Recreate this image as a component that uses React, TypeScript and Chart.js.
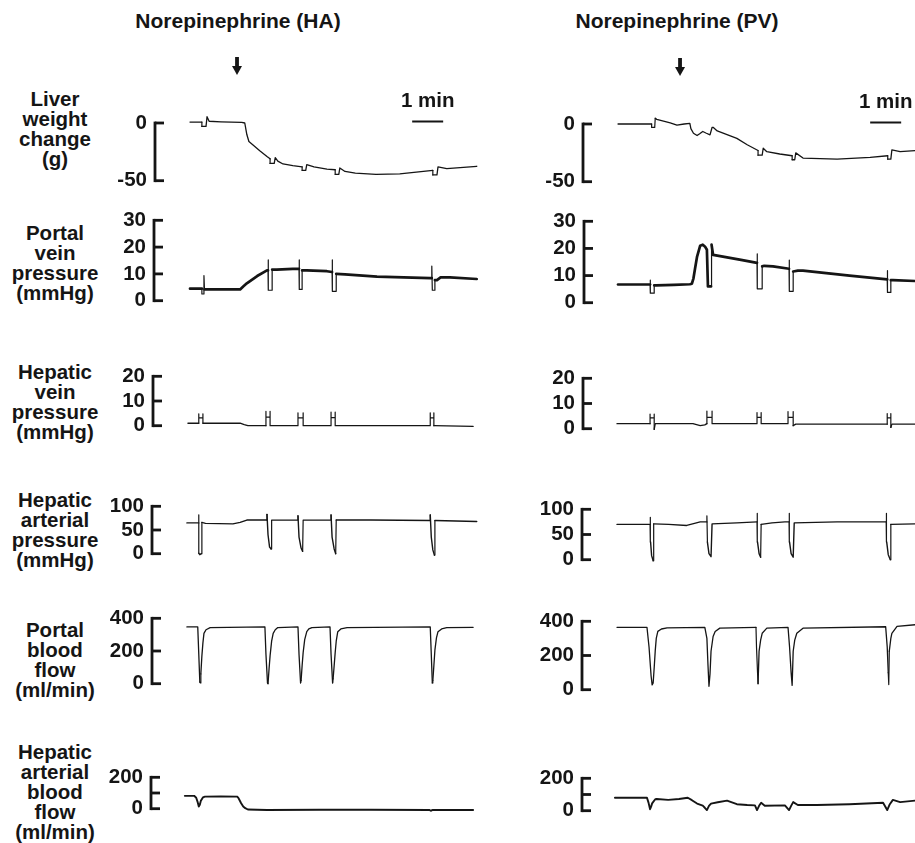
import React, { useEffect, useRef } from 'react';
import { Chart, registerables } from 'chart.js';

Chart.register(...registerables);

type Pt = [number, number];

const FONT = "'Liberation Sans', Arial, Helvetica, sans-serif";
const INK = '#151515';

// ---- text ----
const columnTitles = ['Norepinephrine (HA)', 'Norepinephrine (PV)'];
const rowLabels: string[][] = [
  ['Liver', 'weight', 'change', '(g)'],
  ['Portal', 'vein', 'pressure', '(mmHg)'],
  ['Hepatic', 'vein', 'pressure', '(mmHg)'],
  ['Hepatic', 'arterial', 'pressure', '(mmHg)'],
  ['Portal', 'blood', 'flow', '(ml/min)'],
  ['Hepatic', 'arterial', 'blood', 'flow', '(ml/min)'],
];
const scaleBarLabel = '1 min';

// ---- y ticks ----
const liverTicks = [-50, 0];
const liverTickLabels = ['-50', '0'];
const portalPressureTicks = [0, 10, 20, 30];
const portalPressureTickLabels = ['0', '10', '20', '30'];
const hepaticVeinTicks = [0, 10, 20];
const hepaticVeinTickLabels = ['0', '10', '20'];
const arterialPressureTicks = [0, 50, 100];
const arterialPressureTickLabels = ['0', '50', '100'];
const portalFlowTicks = [0, 200, 400];
const portalFlowTickLabels = ['0', '200', '400'];
const arterialFlowTicks = [0, 100, 200];
const arterialFlowTickLabels = ['0', '', '200'];

// ---- events (seconds from start of trace) ----
const injectionTimes = [91, 122];
const oneMinBarHA: Pt = [430, 490];
const oneMinBarPV: Pt = [490, 550];

// ---- traces: [time (s), value] ----
const haLiverWeight: Pt[] = [
  [0, 0.8], [23, 0.8], [23, -3], [31, -3], [33, 5.5], [37, 1.5], [60, 1], [100, 0.5], [106, 0],
  [110, -10], [114, -16], [122, -19], [135, -24], [149, -29], [155, -31], [155, -35], [163, -35],
  [165, -30], [170, -33], [180, -35.5], [199, -37], [217, -38], [217, -41], [224, -41], [226, -36],
  [240, -38], [265, -40], [281, -40.5], [281, -44.5], [288, -44.5], [290, -39], [300, -42],
  [320, -43.5], [360, -44.5], [406, -44], [470, -41], [470, -45], [478, -45], [480, -38],
  [497, -39.5], [555, -37.5],
];
const pvLiverWeight: Pt[] = [
  [2, 0], [67, 0], [67, -3], [73, -3], [74, 5], [77, 4], [90, 2.5], [103, 1], [116, -1], [130, 0],
  [141, 0.5], [143, -4], [148, -8], [155, -10], [160, -8.5], [166, -6.5], [173, -8], [180, -9.4],
  [184, -3], [186, -2.9], [194, -6], [232, -12.5], [252, -18], [273, -23], [273, -27], [281, -27],
  [283, -21], [290, -24], [315, -26], [339, -27.5], [339, -31], [344, -31], [346, -25], [360, -29.5],
  [393, -30], [426, -30.5], [490, -29], [524, -27.5], [524, -30.5], [530, -30.5], [532, -22.5],
  [548, -24], [577, -23],
];

const haPortalPressure: Pt[] = [
  [0, 4.5], [23, 4.5], [23, 2.5], [27, 2.5], [27, 9.4], [28, 4.2], [60, 4.2], [97, 4.2], [103, 5.3],
  [110, 6.5], [130, 9.2], [149, 11.3], [151, 11.3], [151, 15.2], [152, 3.9], [159, 3.9], [159, 11.6],
  [168, 11.6], [199, 11.9], [211, 11.9], [211, 15.2], [212, 4.2], [217, 4.2], [217, 11.3], [226, 11.3],
  [265, 11], [275, 10.7], [275, 15.2], [276, 3.5], [283, 3.5], [283, 10], [300, 9.8], [362, 9],
  [465, 8.4], [468, 8.4], [468, 12.9], [469, 3.9], [474, 3.9], [474, 7.7], [478, 7.7], [485, 8.7],
  [503, 8.7], [555, 8.1],
];
const pvPortalPressure: Pt[] = [
  [2, 6.7], [64, 6.7], [64, 8.3], [65, 3.5], [72, 3.5], [72, 6.4], [76, 6.4], [110, 6.6], [141, 6.8],
  [145, 7], [148, 9], [151, 12.5], [155, 17], [161, 21], [166, 21.4], [171, 20.5], [174, 19.5],
  [176, 6], [182, 6], [183, 21.4], [186, 17.6], [205, 17], [240, 15.8], [271, 14.7], [271, 18],
  [272, 5.1], [281, 5.1], [281, 13.4], [285, 13.6], [302, 13.4], [333, 12.5], [333, 15.7], [334, 4.2],
  [341, 4.2], [341, 11.5], [350, 11.8], [360, 11.8], [450, 10], [523, 8.6], [523, 11.8], [524, 3.8],
  [530, 3.8], [530, 8.3], [534, 8.3], [577, 8],
];

const haHepaticVein: Pt[] = [
  [-4, 1], [17, 1], [17, 4.8], [17, 3.2], [25, 3.2], [25, 4.8], [25, 1], [97, 1], [105, 0.4], [112, 0],
  [147, 0], [147, 5.8], [147, 3.5], [155, 3.5], [155, 5.8], [155, 0], [209, 0], [209, 5.2], [209, 3.2],
  [219, 3.2], [219, 5.2], [219, 0], [273, 0], [273, 5.5], [273, 3.3], [281, 3.3], [281, 5.5], [281, 0],
  [465, 0], [465, 5.2], [465, 3.2], [472, 3.2], [472, 5.2], [472, 0], [548, -0.3],
];
const pvHepaticVein: Pt[] = [
  [0, 2], [64, 2], [64, 5.8], [64, 4.3], [72, 4.3], [72, 5.8], [72, -0.3], [74, 2], [147, 2], [161, 1.2],
  [170, 1.5], [174, 2], [174, 7], [174, 4.5], [184, 4.5], [184, 7], [184, 2], [271, 2], [271, 6.4],
  [271, 4.5], [279, 4.5], [279, 6.4], [279, 2], [331, 2], [331, 6.8], [331, 4.5], [341, 4.5],
  [341, 6.8], [341, 1.2], [346, 1.8], [523, 1.8], [523, 6], [523, 4.3], [530, 4.3], [530, 6],
  [530, 0.5], [532, 1.8], [577, 1.8],
];

const haArterialPressure: Pt[] = [
  [-6, 65], [17, 65], [17, 82], [17, 1], [19, -2], [22, 0], [23, 66], [30, 64], [83, 63], [97, 66],
  [110, 71], [149, 71], [149, 83], [151, 40], [154, 14], [157, 10], [158, 71], [209, 71], [209, 80],
  [211, 35], [215, 12], [218, 5], [219, 71], [273, 71], [273, 82], [275, 35], [279, 10], [282, 0],
  [283, 71], [350, 71], [465, 70], [465, 82], [467, 35], [470, 8], [473, -3], [474, 70], [555, 68],
];
const pvArterialPressure: Pt[] = [
  [0, 70], [64, 70], [64, 84], [65, 35], [67, 8], [70, -2], [71, 71], [100, 70], [135, 68], [150, 72],
  [161, 75], [174, 75], [174, 87], [175, 35], [178, 12], [182, 6], [184, 71], [232, 73], [271, 75],
  [271, 92], [272, 35], [275, 12], [278, 5], [279, 70], [300, 73], [325, 75], [333, 75], [333, 92],
  [334, 35], [337, 12], [341, 5], [343, 73], [426, 75], [521, 75], [521, 92], [522, 35], [525, 10],
  [529, 0], [530, 70], [577, 71],
];

const haPortalFlow: Pt[] = [
  [-6, 347], [15, 347], [17, 180], [19, 10], [20, 5], [21, 60], [23, 170], [25, 250], [27, 308],
  [31, 330], [39, 343], [145, 347], [147, 180], [150, 5], [151, 0], [153, 90], [155, 170], [158, 260],
  [161, 308], [165, 330], [170, 343], [209, 347], [211, 180], [214, 5], [215, 20], [217, 110],
  [219, 190], [222, 270], [226, 318], [230, 335], [236, 343], [271, 347], [273, 180], [276, 5],
  [277, 30], [279, 110], [281, 190], [283, 260], [286, 318], [292, 335], [304, 343], [465, 347],
  [467, 180], [469, 5], [470, 20], [472, 110], [474, 205], [477, 280], [480, 318], [487, 335],
  [497, 343], [548, 345],
];
const pvPortalFlow: Pt[] = [
  [0, 365], [58, 365], [62, 250], [66, 80], [68, 28], [70, 40], [72, 130], [74, 227], [76, 300],
  [79, 341], [86, 355], [97, 362], [170, 365], [174, 300], [176, 150], [178, 20], [180, 90],
  [182, 225], [186, 311], [190, 340], [199, 360], [269, 365], [270, 250], [272, 100], [273, 35],
  [275, 225], [278, 290], [281, 330], [290, 360], [331, 365], [334, 250], [337, 100], [339, 25],
  [341, 225], [344, 290], [348, 330], [360, 360], [520, 368], [523, 250], [525, 100], [526, 30],
  [527, 225], [530, 300], [532, 330], [542, 370], [577, 380],
];

const haArterialFlow: Pt[] = [
  [-10, 82], [8, 82], [12, 70], [15, 40], [17, 14], [19, 25], [21, 50], [25, 72], [29, 77], [60, 78],
  [91, 77], [93, 72], [95, 60], [99, 35], [103, 14], [107, 3], [112, -5], [130, -7], [149, -8],
  [250, -7], [350, -6.5], [463, -8], [466, -13], [470, -8], [548, -8],
];
const pvArterialFlow: Pt[] = [
  [-4, 80], [58, 80], [61, 50], [64, 9], [66, 25], [68, 45], [74, 71], [77, 72], [99, 67], [120, 72],
  [137, 80], [145, 65], [155, 44], [166, 31], [170, 18], [174, 4], [178, 30], [182, 44], [195, 52],
  [213, 62], [232, 40], [252, 35], [267, 33], [271, 4], [275, 30], [279, 49], [286, 31], [325, 33],
  [333, 4], [337, 30], [341, 53], [350, 35], [387, 35], [450, 40], [515, 49], [523, 4], [528, 40],
  [534, 67], [548, 53], [577, 62],
];

// ---- row definitions (data only) ----
const rows = [
  { ticks: liverTicks, tickLabels: liverTickLabels, ha: haLiverWeight, pv: pvLiverWeight },
  { ticks: portalPressureTicks, tickLabels: portalPressureTickLabels, ha: haPortalPressure, pv: pvPortalPressure },
  { ticks: hepaticVeinTicks, tickLabels: hepaticVeinTickLabels, ha: haHepaticVein, pv: pvHepaticVein },
  { ticks: arterialPressureTicks, tickLabels: arterialPressureTickLabels, ha: haArterialPressure, pv: pvArterialPressure },
  { ticks: portalFlowTicks, tickLabels: portalFlowTickLabels, ha: haPortalFlow, pv: pvPortalFlow },
  { ticks: arterialFlowTicks, tickLabels: arterialFlowTickLabels, ha: haArterialFlow, pv: pvArterialFlow },
];

// ---- layout (pixels) ----
const PX_PER_SEC = 31 / 60;
const AXIS_W = 60;
const colLayout = [
  { start: 190, right: 480, axisX: [155, 154, 153, 152, 152, 151], titleX: 238 },
  { start: 617, right: 915, axisX: [583, 584, 583, 582, 582, 582], titleX: 677 },
];
const rowPx: [number, number][][] = [
  [[123, 187], [124, 188]],
  [[214, 307], [215, 309]],
  [[370, 432], [372, 435]],
  [[500, 560], [503, 566]],
  [[612, 690], [615, 696]],
  [[771, 815], [772, 817]],
];
const rowLabelTops = [89, 223, 362, 490, 620, 742];
const lineWidths = [1.3, 2.7, 1.3, 1.4, 1.3, 1.9];
const spikeWidth = 1.2;

const bracketPlugin = {
  id: 'bracketAxis',
  afterDraw(chart: any, _args: any, opts: any) {
    const { ctx, chartArea } = chart;
    const ys = chart.scales.y;
    const xs = chart.scales.x;
    const x0 = chartArea.left;
    ctx.save();
    ctx.strokeStyle = INK;
    ctx.fillStyle = INK;
    ctx.lineWidth = 2.8;
    const top = ys.getPixelForValue(ys.max);
    const bot = ys.getPixelForValue(ys.min);
    ctx.beginPath();
    ctx.moveTo(x0, top - 1.4);
    ctx.lineTo(x0, bot + 1.4);
    ctx.stroke();
    ys.ticks.forEach((t: any) => {
      const p = ys.getPixelForValue(t.value);
      ctx.beginPath();
      ctx.moveTo(x0, p);
      ctx.lineTo(x0 + 9, p);
      ctx.stroke();
    });
    if (opts && opts.arrowAt != null) {
      const ax = xs.getPixelForValue(opts.arrowAt);
      const at = chartArea.top - 66;
      ctx.fillRect(ax - 1.9, at, 3.8, 10);
      ctx.beginPath();
      ctx.moveTo(ax - 5, at + 9);
      ctx.lineTo(ax + 5, at + 9);
      ctx.lineTo(ax, at + 18);
      ctx.closePath();
      ctx.fill();
    }
    if (opts && opts.bar) {
      const b0 = xs.getPixelForValue(opts.bar[0]);
      const b1 = xs.getPixelForValue(opts.bar[1]);
      ctx.lineWidth = 2;
      ctx.beginPath();
      ctx.moveTo(b0, chartArea.top - 1.5);
      ctx.lineTo(b1, chartArea.top - 1.5);
      ctx.stroke();
      ctx.font = `bold 20.5px ${FONT}`;
      ctx.textAlign = 'center';
      ctx.textBaseline = 'alphabetic';
      ctx.fillText(opts.barLabel, (b0 + b1) / 2, chartArea.top - 16);
    }
    ctx.restore();
  },
};

function Panel({ col, row }: { col: number; row: number }) {
  const ref = useRef<HTMLCanvasElement>(null);
  const lay = colLayout[col];
  const def = rows[row];
  const axisX = lay.axisX[row];
  const [topPx, botPx] = rowPx[row][col];
  const padTop = row === 0 ? 76 : 14;
  const padBottom = 14;
  const left = axisX - AXIS_W;
  const width = lay.right - left;
  const height = botPx - topPx + padTop + padBottom;
  const xMin = (axisX - lay.start) / PX_PER_SEC;
  const xMax = (lay.right - lay.start) / PX_PER_SEC;
  const pts = col === 0 ? def.ha : def.pv;

  useEffect(() => {
    const canvas = ref.current;
    if (!canvas) return;
    const ticks = def.ticks;
    const labels = def.tickLabels;
    // calibration strokes (vertical pen jumps and the short bottoms between them) are drawn thin
    const isVert = (i: number) =>
      i >= 0 && i + 1 < pts.length && Math.abs(pts[i + 1][0] - pts[i][0]) <= 1.5;
    const segWidth = (c: any) => {
      const i = c.p0DataIndex;
      if (isVert(i) || (isVert(i - 1) && isVert(i + 1))) return Math.min(spikeWidth, lineWidths[row]);
      return lineWidths[row];
    };
    const chart = new Chart(canvas, {
      type: 'line',
      data: {
        datasets: [
          {
            data: pts.map(([x, y]) => ({ x, y })),
            borderColor: INK,
            borderWidth: lineWidths[row],
            borderJoinStyle: 'round',
            borderCapStyle: 'round',
            segment: { borderWidth: segWidth },
            pointRadius: 0,
            tension: 0,
            fill: false,
            clip: false,
          } as any,
        ],
      },
      options: {
        animation: false,
        responsive: false,
        maintainAspectRatio: false,
        events: [],
        layout: { padding: { top: padTop, bottom: padBottom, left: 0, right: 0 }, autoPadding: false } as any,
        plugins: {
          legend: { display: false },
          tooltip: { enabled: false },
          bracketAxis: row === 0
            ? { arrowAt: injectionTimes[col], bar: col === 0 ? oneMinBarHA : oneMinBarPV, barLabel: scaleBarLabel }
            : {},
        } as any,
        scales: {
          x: { type: 'linear', min: xMin, max: xMax, display: false },
          y: {
            type: 'linear',
            position: 'left',
            min: ticks[0],
            max: ticks[ticks.length - 1],
            grid: { display: false, drawTicks: false },
            border: { display: false },
            afterBuildTicks: (s: any) => {
              s.ticks = ticks.map((v) => ({ value: v }));
            },
            afterFit: (s: any) => {
              s.width = AXIS_W;
            },
            ticks: {
              autoSkip: false,
              padding: 8,
              color: INK,
              font: { family: FONT, size: 20.5, weight: 'bold' },
              callback: (_v: any, i: number) => labels[i],
            },
          } as any,
        },
      },
      plugins: [bracketPlugin],
    });
    return () => chart.destroy();
  }, []);

  return (
    <canvas
      ref={ref}
      width={width}
      height={height}
      style={{ position: 'absolute', left, top: topPx - padTop, width, height }}
    />
  );
}

export default function App() {
  const textStyle: React.CSSProperties = {
    position: 'absolute',
    fontFamily: FONT,
    fontWeight: 'bold',
    fontSize: 20.5,
    lineHeight: '20px',
    color: INK,
    textAlign: 'center',
    whiteSpace: 'nowrap',
  };
  return (
    <div
      style={{
        position: 'absolute',
        left: 0,
        top: 0,
        width: 915,
        height: 843,
        overflow: 'hidden',
        background: '#fff',
      }}
    >
      {columnTitles.map((t, c) => (
        <div key={t} style={{ ...textStyle, fontSize: 21, left: colLayout[c].titleX - 150, width: 300, top: 11 }}>
          {t}
        </div>
      ))}
      {rowLabels.map((lines, r) => (
        <div key={r} style={{ ...textStyle, left: 0, width: 110, top: rowLabelTops[r] }}>
          {lines.map((l, i) => (
            <div key={i}>{l}</div>
          ))}
        </div>
      ))}
      {rows.map((_, r) =>
        [0, 1].map((c) => <Panel key={`${r}-${c}`} col={c} row={r} />)
      )}
    </div>
  );
}
